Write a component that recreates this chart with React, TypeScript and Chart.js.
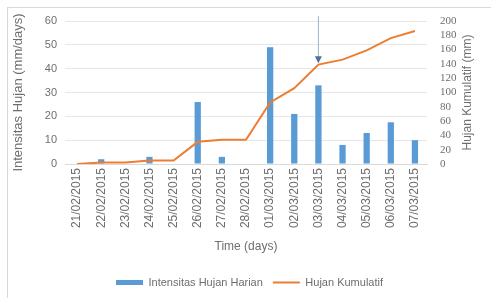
import React, { useEffect, useRef } from "react";
import { Chart, registerables } from "chart.js";

Chart.register(...registerables);

const categories = [
  "21/02/2015", "22/02/2015", "23/02/2015", "24/02/2015", "25/02/2015",
  "26/02/2015", "27/02/2015", "28/02/2015", "01/03/2015", "02/03/2015",
  "03/03/2015", "04/03/2015", "05/03/2015", "06/03/2015", "07/03/2015",
];
const dailyRain = [0, 2, 0, 3, 0, 26, 3, 0, 49, 21, 33, 8, 13, 17.5, 10];
const cumulativeRain = [0, 2, 2, 5, 5, 31, 34, 34, 86, 106, 139, 146, 159, 176, 186];
const leftTicks = [0, 10, 20, 30, 40, 50, 60];
const rightTicks = [0, 20, 40, 60, 80, 100, 120, 140, 160, 180, 200];
const seriesNames = ["Intensitas Hujan Harian", "Hujan Kumulatif"];
const seriesColors = ["#5B9BD5", "#ED7D31"];
const leftTitle = "Intensitas Hujan (mm/days)";
const rightTitle = "Hujan Kumulatif (mm)";
const xTitle = "Time (days)";
const arrowCategoryIndex = 10;
const arrowFromValue = 207;
const arrowToValue = 141;

const FONT = "'Liberation Sans', 'DejaVu Sans', sans-serif";
const TEXT = "#6e6e6e";

const extrasPlugin = {
  id: "extrasPlugin",
  afterDatasetsDraw(chart: any) {
    const x = chart.scales.x.getPixelForValue(arrowCategoryIndex);
    const y1s = chart.scales.y1;
    const yFrom = y1s.getPixelForValue(arrowFromValue);
    const yTo = y1s.getPixelForValue(arrowToValue);
    const ctx = chart.ctx;
    ctx.save();
    ctx.strokeStyle = "#9fb3cc";
    ctx.lineWidth = 1;
    ctx.beginPath();
    ctx.moveTo(x, yFrom);
    ctx.lineTo(x, yTo - 5);
    ctx.stroke();
    ctx.fillStyle = "#4f6f96";
    ctx.beginPath();
    ctx.moveTo(x - 3.5, yTo - 7);
    ctx.lineTo(x + 3.5, yTo - 7);
    ctx.lineTo(x, yTo);
    ctx.closePath();
    ctx.fill();
    ctx.restore();
  },
  afterDraw(chart: any) {
    const ctx = chart.ctx;
    const s = chart.scales.y1;
    const ca = chart.chartArea;
    ctx.save();
    ctx.translate(s.right - 23, (ca.top + ca.bottom) / 2);
    ctx.rotate(-Math.PI / 2);
    ctx.font = "12px " + FONT;
    ctx.fillStyle = TEXT;
    ctx.textAlign = "center";
    ctx.textBaseline = "middle";
    ctx.fillText(rightTitle, 0, 0);
    ctx.restore();
  },
};

export default function App() {
  const ref = useRef<HTMLCanvasElement>(null);
  useEffect(() => {
    if (!ref.current) return;
    const chart = new Chart(ref.current, {
      data: {
        labels: categories,
        datasets: [
          {
            type: "bar",
            label: seriesNames[0],
            data: dailyRain,
            backgroundColor: seriesColors[0],
            yAxisID: "y",
            categoryPercentage: 1,
            barPercentage: 0.26,
            order: 2,
          },
          {
            type: "line",
            label: seriesNames[1],
            data: cumulativeRain,
            borderColor: seriesColors[1],
            backgroundColor: seriesColors[1],
            borderWidth: 2,
            pointRadius: 0,
            tension: 0,
            yAxisID: "y1",
            order: 1,
          },
        ],
      } as any,
      plugins: [extrasPlugin],
      options: {
        responsive: false,
        animation: false,
        layout: { padding: { top: 13, left: 0, right: 0, bottom: 0 } },
        plugins: {
          tooltip: { enabled: false },
          legend: {
            position: "bottom",
            labels: {
              font: { family: FONT, size: 11 },
              color: TEXT,
              usePointStyle: true,
              pointStyleWidth: 27,
              boxHeight: 5,
              padding: 10,
              sort: (a: any, b: any) => a.datasetIndex - b.datasetIndex,
              generateLabels(chart: any) {
                const items = Chart.defaults.plugins.legend.labels.generateLabels(chart);
                items.forEach((it: any) => {
                  const i = it.datasetIndex;
                  it.text = seriesNames[i];
                  it.pointStyle = i === 0 ? "rect" : "line";
                  it.lineWidth = i === 0 ? 0 : 2;
                  it.strokeStyle = seriesColors[i];
                  it.fillStyle = seriesColors[i];
                  it.fontColor = TEXT;
                });
                return items;
              },
            },
          },
        },
        scales: {
          x: {
            grid: { display: false, drawTicks: false },
            border: { display: true, color: "#d9d9d9" },
            ticks: {
              font: { family: FONT, size: 12 },
              color: TEXT,
              minRotation: 90,
              maxRotation: 90,
              autoSkip: false,
              padding: 4,
            },
            title: {
              display: true,
              text: xTitle,
              font: { family: FONT, size: 12 },
              color: TEXT,
              padding: { top: 4, bottom: 13 },
            },
            afterFit(scale: any) {
              scale.height = 103;
              scale.paddingLeft = 0;
              scale.paddingRight = 0;
            },
          },
          y: {
            position: "left",
            min: 0,
            max: 60,
            afterBuildTicks(scale: any) {
              scale.ticks = leftTicks.map((v) => ({ value: v }));
            },
            grid: { color: "#e6e6e6", drawTicks: false },
            border: { display: false },
            ticks: {
              font: { family: FONT, size: 11 },
              color: TEXT,
              padding: 8,
              autoSkip: false,
            },
            title: {
              display: true,
              text: leftTitle,
              font: { family: FONT, size: 13 },
              color: TEXT,
              padding: { top: 3, bottom: 0 },
            },
            afterFit(scale: any) {
              scale.width = 57;
              scale.paddingTop = 0;
              scale.paddingBottom = 0;
            },
          },
          y1: {
            position: "right",
            min: 0,
            max: 200,
            afterBuildTicks(scale: any) {
              scale.ticks = rightTicks.map((v) => ({ value: v }));
            },
            grid: { display: false, drawTicks: false },
            border: { display: false },
            ticks: {
              font: { family: "'Liberation Serif', serif", size: 11 },
              color: TEXT,
              padding: 13,
              autoSkip: false,
            },
            title: { display: false },
            afterFit(scale: any) {
              scale.width = 64;
              scale.paddingTop = 0;
              scale.paddingBottom = 0;
            },
          },
        },
      } as any,
    });
    return () => chart.destroy();
  }, []);
  return (
    <div
      style={{
        position: "absolute",
        left: 7,
        top: 7,
        width: 483,
        height: 290,
        border: "1px solid #d9d9d9",
      }}
    >
      <canvas ref={ref} width={483} height={290} style={{ display: "block" }} />
    </div>
  );
}
